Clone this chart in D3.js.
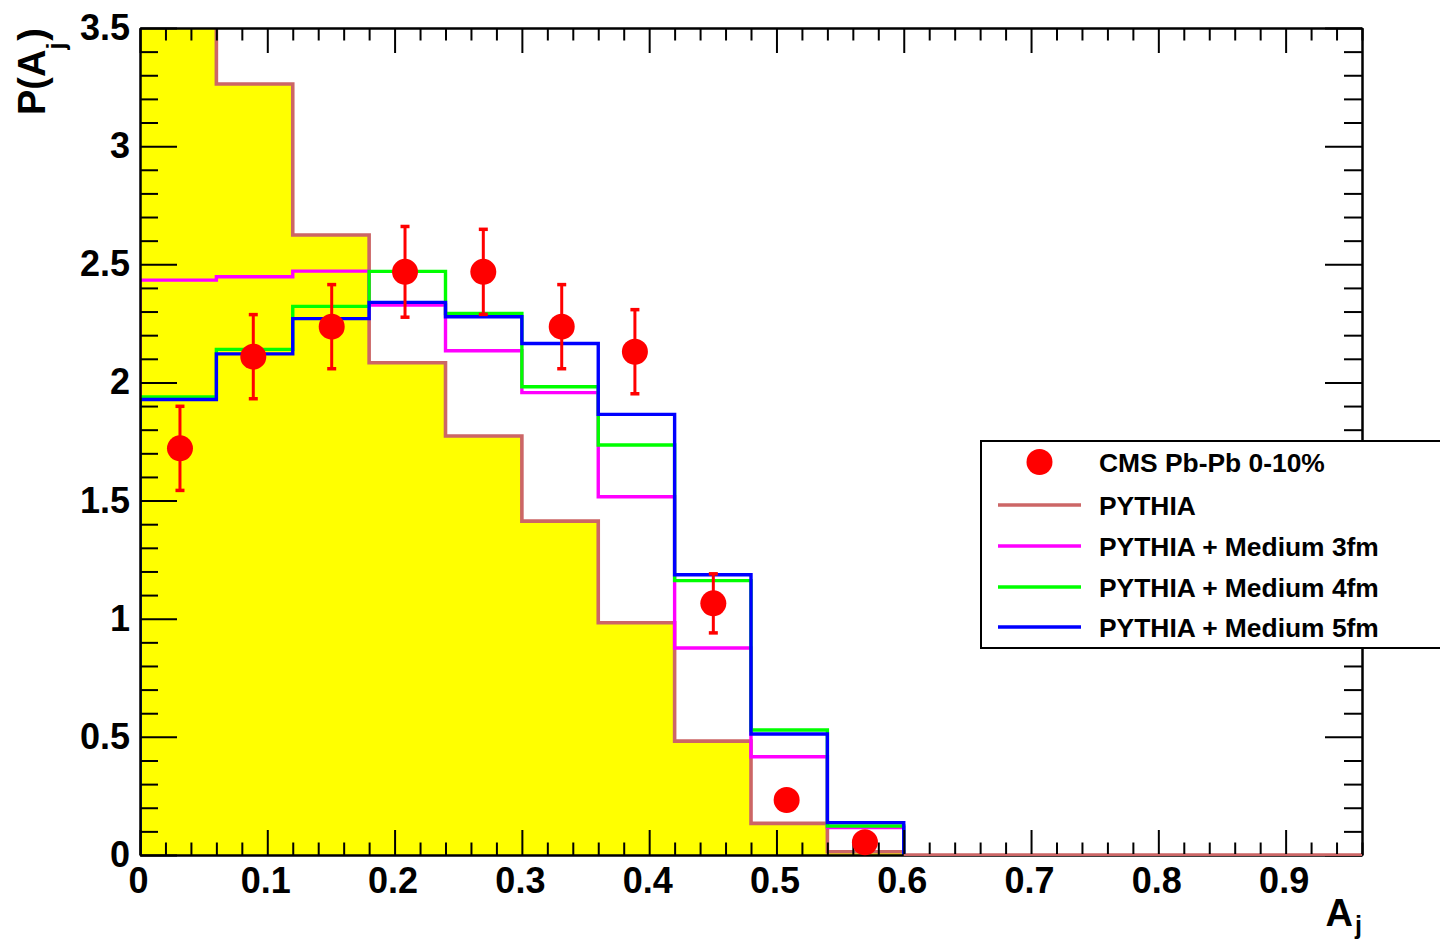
<!DOCTYPE html>
<html>
<head>
<meta charset="utf-8">
<script src="https://cdn.jsdelivr.net/npm/d3@7"></script>
<style>
  html, body { margin: 0; padding: 0; background: #fff; }
  svg { display: block; font-family: "Liberation Sans", Arial, Helvetica, sans-serif; font-weight: bold; }
</style>
</head>
<body>
<svg id="chart" width="1440" height="941"></svg>
<script>
// ---- data ----
const binLow = [0, 0.06, 0.12, 0.18, 0.24, 0.30, 0.36, 0.42, 0.48, 0.54, 0.60, 0.66, 0.72, 0.78, 0.84, 0.90];
const binHigh = 0.96;
const pythia = [3.80, 3.263, 2.624, 2.083, 1.773, 1.413, 0.983, 0.482, 0.134, 0.014, 0, 0, 0, 0, 0, 0];
const medium3 = [2.433, 2.447, 2.471, 2.328, 2.134, 1.957, 1.516, 0.876, 0.416, 0.116];
const medium4 = [1.939, 2.140, 2.322, 2.470, 2.292, 1.982, 1.735, 1.161, 0.529, 0.123];
const medium5 = [1.928, 2.121, 2.270, 2.339, 2.278, 2.165, 1.865, 1.186, 0.512, 0.137];
const cmsX = [0.0314, 0.0890, 0.1506, 0.2082, 0.2697, 0.3313, 0.3888, 0.4504, 0.5080, 0.5695];
const cmsY = [1.721, 2.109, 2.236, 2.468, 2.468, 2.236, 2.130, 1.065, 0.233, 0.054];
const cmsErr = [0.178, 0.178, 0.178, 0.192, 0.180, 0.178, 0.178, 0.125, 0.04, 0.02];
const xTicks = [0, 0.1, 0.2, 0.3, 0.4, 0.5, 0.6, 0.7, 0.8, 0.9];
const xTickLabels = ["0", "0.1", "0.2", "0.3", "0.4", "0.5", "0.6", "0.7", "0.8", "0.9"];
const yTicks = [0, 0.5, 1, 1.5, 2, 2.5, 3, 3.5];
const yTickLabels = ["0", "0.5", "1", "1.5", "2", "2.5", "3", "3.5"];
const legendLabels = ["CMS Pb-Pb 0-10%", "PYTHIA", "PYTHIA + Medium 3fm", "PYTHIA + Medium 4fm", "PYTHIA + Medium 5fm"];
const colors = { fill: "#ffff00", pythia: "#cc6666", m3: "#ff00ff", m4: "#00ff00", m5: "#0000ff", cms: "#ff0000" };

// ---- layout ----
const L = 140, R = 1362, T = 28, B = 855;
const svg = d3.select("#chart");
const x = d3.scaleLinear().domain([0, 0.96]).range([L, R]);
const y = d3.scaleLinear().domain([0, 3.5]).range([B, T]);

svg.append("defs").append("clipPath").attr("id", "plotclip")
  .append("rect").attr("x", L).attr("y", T).attr("width", R - L).attr("height", B - T);

const plot = svg.append("g").attr("clip-path", "url(#plotclip)");

function stepPoints(vals) {
  const pts = vals.map((v, i) => [binLow[i], v]);
  const end = vals.length < binLow.length ? binLow[vals.length] : binHigh;
  pts.push([end, vals[vals.length - 1]]);
  pts.push([end, 0]);
  return pts;
}
const stepLine = d3.line().x(d => x(d[0])).y(d => y(d[1])).curve(d3.curveStepAfter);
const stepArea = d3.area().x(d => x(d[0])).y0(y(0)).y1(d => y(d[1])).curve(d3.curveStepAfter);

// yellow fill under PYTHIA
plot.append("path").attr("d", stepArea(stepPoints(pythia))).attr("fill", colors.fill);
plot.append("path").attr("d", stepLine(stepPoints(pythia)))
  .attr("fill", "none").attr("stroke", colors.pythia).attr("stroke-width", 3.6);

[[medium3, colors.m3], [medium4, colors.m4], [medium5, colors.m5]].forEach(([vals, c]) => {
  plot.append("path").attr("d", stepLine([[0, 0]].concat(stepPoints(vals))))
    .attr("fill", "none").attr("stroke", c).attr("stroke-width", 3.4);
});

// ---- axes ----
function styleAxis(g) {
  g.select(".domain").attr("stroke", "#000").attr("stroke-width", 2);
  g.selectAll(".tick line").attr("stroke", "#000").attr("stroke-width", 2);
  g.selectAll(".tick text").attr("fill", "#000").style("font-size", "36px").style("font-weight", "bold")
    .style("font-family", '"Liberation Sans", Arial, sans-serif');
}
const xMinor = d3.range(0, 0.961, 0.02).filter(v => Math.abs(v * 10 - Math.round(v * 10)) > 1e-6);
const yMinor = d3.range(0, 3.501, 0.1).filter(v => Math.abs(v * 2 - Math.round(v * 2)) > 1e-6);

// bottom
svg.append("g").attr("transform", `translate(0,${B})`)
  .call(d3.axisBottom(x).tickValues(xMinor).tickSize(-12.5).tickFormat("").tickSizeOuter(0))
  .call(styleAxis);
svg.append("g").attr("transform", `translate(0,${B})`)
  .call(d3.axisBottom(x).tickValues(xTicks).tickSize(-25).tickPadding(12).tickSizeOuter(0)
    .tickFormat((d, i) => xTickLabels[i]))
  .call(styleAxis)
  .call(g => g.selectAll(".tick text").attr("dx", "-2"));
// top
svg.append("g").attr("transform", `translate(0,${T})`)
  .call(d3.axisTop(x).tickValues(xMinor).tickSize(-12.5).tickFormat("").tickSizeOuter(0)).call(styleAxis);
svg.append("g").attr("transform", `translate(0,${T})`)
  .call(d3.axisTop(x).tickValues(xTicks).tickSize(-25).tickFormat("").tickSizeOuter(0)).call(styleAxis);
// left
svg.append("g").attr("transform", `translate(${L},0)`)
  .call(d3.axisLeft(y).tickValues(yMinor).tickSize(-18).tickFormat("").tickSizeOuter(0)).call(styleAxis);
svg.append("g").attr("transform", `translate(${L},0)`)
  .call(d3.axisLeft(y).tickValues(yTicks).tickSize(-37).tickPadding(10).tickSizeOuter(0)
    .tickFormat((d, i) => yTickLabels[i]))
  .call(styleAxis);
// right
svg.append("g").attr("transform", `translate(${R},0)`)
  .call(d3.axisRight(y).tickValues(yMinor).tickSize(-18).tickFormat("").tickSizeOuter(0)).call(styleAxis);
svg.append("g").attr("transform", `translate(${R},0)`)
  .call(d3.axisRight(y).tickValues(yTicks).tickSize(-37).tickFormat("").tickSizeOuter(0)).call(styleAxis);

// PYTHIA zero line along axis (drawn over axis like reference)
svg.append("path").attr("d", stepLine(stepPoints(pythia).filter(d => d[0] >= 0.60)))
  .attr("fill", "none").attr("stroke", colors.pythia).attr("stroke-width", 2);

// ---- CMS data points ----
const pts = svg.append("g");
cmsX.forEach((xv, i) => {
  const cx = x(xv), yt = y(cmsY[i] + cmsErr[i]), yb = y(cmsY[i] - cmsErr[i]);
  pts.append("line").attr("x1", cx).attr("x2", cx).attr("y1", yt).attr("y2", yb)
    .attr("stroke", colors.cms).attr("stroke-width", 3);
  [yt, yb].forEach(yy => pts.append("line").attr("x1", cx - 4.5).attr("x2", cx + 4.5)
    .attr("y1", yy).attr("y2", yy).attr("stroke", colors.cms).attr("stroke-width", 3.5));
  pts.append("circle").attr("cx", cx).attr("cy", y(cmsY[i])).attr("r", 13).attr("fill", colors.cms);
});

// ---- axis titles ----
const xt = svg.append("text").attr("x", R).attr("y", 926).attr("text-anchor", "end")
  .style("font-size", "38px").attr("fill", "#000");
xt.append("tspan").text("A");
xt.append("tspan").attr("dy", 8).attr("dx", 2).style("font-size", "25px").text("j");

const yt = svg.append("text").attr("transform", `translate(45,${T}) rotate(-90)`).attr("text-anchor", "end")
  .style("font-size", "38px").attr("fill", "#000");
yt.append("tspan").text("P(A");
yt.append("tspan").attr("dy", 20).style("font-size", "25px").text("j");
yt.append("tspan").attr("dy", -20).attr("dx", 2).text(")");

// ---- legend ----
const lg = svg.append("g");
lg.append("rect").attr("x", 981).attr("y", 441).attr("width", 480).attr("height", 207)
  .attr("fill", "#fff").attr("stroke", "#000").attr("stroke-width", 2);
const rowY = [462, 505, 546, 587, 627];
const lineCols = [null, colors.pythia, colors.m3, colors.m4, colors.m5];
legendLabels.forEach((lab, i) => {
  if (i === 0) {
    lg.append("circle").attr("cx", 1039.5).attr("cy", rowY[i]).attr("r", 13).attr("fill", colors.cms);
  } else {
    lg.append("line").attr("x1", 998).attr("x2", 1081).attr("y1", rowY[i]).attr("y2", rowY[i])
      .attr("stroke", lineCols[i]).attr("stroke-width", 3.6);
  }
  lg.append("text").attr("x", 1099).attr("y", rowY[i]).attr("dy", "0.36em")
    .style("font-size", "26.4px").attr("fill", "#000").text(lab);
});
</script>
</body>
</html>
